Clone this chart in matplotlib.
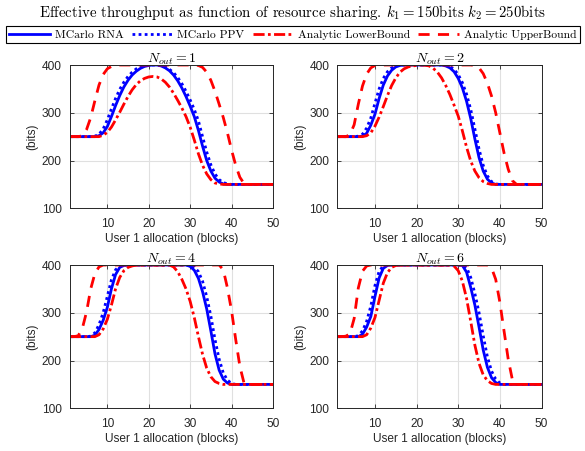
import matplotlib
matplotlib.use("Agg")
import matplotlib.pyplot as plt

plt.rcParams['mathtext.fontset'] = 'cm'
plt.rcParams['font.family'] = ['Liberation Sans', 'DejaVu Sans']

blocks = list(range(1, 51))
panel_titles = [r"$N_{out} = 1$", r"$N_{out} = 2$", r"$N_{out} = 4$", r"$N_{out} = 6$"]
series_labels = ["MCarlo RNA", "MCarlo PPV", "Analytic LowerBound", "Analytic UpperBound"]
x_ticks = [10, 20, 30, 40, 50]
y_ticks = [100, 200, 300, 400]

# N_out = 1
rna_1 = [250,250,250,250,250,250,250,252,258,271, 292,315,336,354,368,379,387,393,397,399,
         400,400,398,394,388,379,367,352,334,314, 292,263,230,200,178,163,155,151,150,150,
         150,150,150,150,150,150,150,150,150,150]
ppv_1 = [250,250,250,250,250,250,251,255,266,285, 308,330,349,364,376,385,392,396,399,400,
         400,400,399,396,391,384,374,361,345,327, 307,283,250,218,191,172,160,154,151,150,
         150,150,150,150,150,150,150,150,150,150]
lb_1 = [250,250,250,250,250,250,250,250,253,259, 270,285,301,318,334,348,359,367,372,375,
        376,375,371,364,354,341,326,310,292,270, 243,214,190,172,160,153,151,150,150,150,
        150,150,150,150,150,150,150,150,150,150]
ub_1 = [250,250,250,252,265,290,325,358,380,392, 397,399,400,400,400,400,400,400,400,400,
        400,400,400,400,400,400,400,400,400,400, 400,399,395,385,368,345,318,290,258,222,
        190,165,152,150,150,150,150,150,150,150]

# N_out = 2
rna_2 = [250,250,250,250,250,250,251,257,274,297, 330,358,377,389,396,399,400,400,400,400,
         400,400,400,400,400,400,398,394,386,372, 352,324,288,245,206,178,161,153,150,150,
         150,150,150,150,150,150,150,150,150,150]
ppv_2 = [250,250,250,250,250,251,255,268,289,320, 350,372,386,394,398,400,400,400,400,400,
         400,400,400,400,400,400,400,397,391,380, 363,339,307,266,224,190,168,156,151,150,
         150,150,150,150,150,150,150,150,150,150]
lb_2 = [250,250,250,250,250,250,250,252,258,272, 291,313,336,357,373,385,392,396,398,399,
        400,400,398,393,385,373,357,338,316,293, 262,228,199,178,164,156,152,150,150,150,
        150,150,150,150,150,150,150,150,150,150]
ub_2 = [250,250,250,254,275,318,356,381,394,399, 400,400,400,400,400,400,400,400,400,400,
        400,400,400,400,400,400,400,400,400,400, 400,400,400,399,394,382,362,335,300,258,
        216,182,158,150,150,150,150,150,150,150]

# N_out = 4
rna_3 = [250,250,250,250,250,250,253,265,284,311, 350,380,395,399,400,400,400,400,400,400,
         400,400,400,400,400,400,400,400,400,397, 389,372,344,308,262,214,180,161,153,150,
         150,150,150,150,150,150,150,150,150,150]
ppv_3 = [250,250,250,250,250,251,258,275,300,334, 369,390,398,400,400,400,400,400,400,400,
         400,400,400,400,400,400,400,400,400,400, 396,386,366,334,293,244,203,174,159,152,
         150,150,150,150,150,150,150,150,150,150]
lb_3 = [250,250,250,250,250,250,250,254,266,286, 316,350,374,388,395,398,400,400,400,400,
        400,400,400,400,400,396,386,370,350,324, 290,250,213,184,166,156,152,150,150,150,
        150,150,150,150,150,150,150,150,150,150]
ub_3 = [250,250,252,268,302,350,382,396,400,400, 400,400,400,400,400,400,400,400,400,400,
        400,400,400,400,400,400,400,400,400,400, 400,400,400,400,400,400,400,390,352,304,
        244,188,153,150,150,150,150,150,150,150]

# N_out = 6
rna_4 = [250,250,250,250,250,250,255,270,292,334, 373,393,399,400,400,400,400,400,400,400,
         400,400,400,400,400,400,400,400,400,400, 399,385,353,316,270,222,186,164,154,150,
         150,150,150,150,150,150,150,150,150,150]
ppv_4 = [250,250,250,250,250,252,262,282,314,357, 387,398,400,400,400,400,400,400,400,400,
         400,400,400,400,400,400,400,400,400,400, 400,395,374,340,300,252,208,178,161,153,
         150,150,150,150,150,150,150,150,150,150]
lb_4 = [250,250,250,250,250,250,250,254,268,290, 326,362,384,395,399,400,400,400,400,400,
        400,400,400,400,400,400,400,400,398,388, 366,330,282,232,194,170,158,152,150,150,
        150,150,150,150,150,150,150,150,150,150]
ub_4 = [250,250,251,256,288,352,387,398,400,400, 400,400,400,400,400,400,400,400,400,400,
        400,400,400,400,400,400,400,400,400,400, 400,400,400,400,400,400,400,394,370,322,
        262,203,160,150,150,150,150,150,150,150]

panels = [
    (rna_1, ppv_1, lb_1, ub_1),
    (rna_2, ppv_2, lb_2, ub_2),
    (rna_3, ppv_3, lb_3, ub_3),
    (rna_4, ppv_4, lb_4, ub_4),
]

W, H = 585, 451
fig = plt.figure(figsize=(W / 100, H / 100), dpi=100)

# axes rectangles in pixels: left, top, width, height
rects = [(70, 65, 203, 143.3), (337.5, 65, 204, 143.3),
         (70, 265, 203, 143.3), (337.5, 265, 204, 143.3)]

dark = '#262626'
styles = [
    dict(color='blue', lw=2.0, ls='-'),
    dict(color='blue', lw=2.0, ls=(0, (1, 1.2))),
    dict(color='red', lw=2.0, ls=(0, (4, 1.2, 1, 1.2))),
    dict(color='red', lw=2.0, ls=(0, (4, 3))),
]

handles = None
for i, (l, t, w, h) in enumerate(rects):
    ax = fig.add_axes([l / W, 1 - (t + h) / H, w / W, h / H])
    lines = []
    for data, st, lab in zip(panels[i], styles, series_labels):
        ln, = ax.plot(blocks, data, label=lab, **st)
        lines.append(ln)
    if handles is None:
        handles = lines
    ax.set_xlim(1, 50)
    ax.set_ylim(100, 400)
    ax.set_xticks(x_ticks)
    ax.set_yticks(y_ticks)
    ax.grid(True, color='#e0e0e0', lw=0.8)
    ax.set_axisbelow(True)
    ax.tick_params(direction='in', top=True, right=True, length=3, width=0.6,
                   labelsize=8.6, colors=dark)
    ax.tick_params(axis='x', pad=7)
    ax.tick_params(axis='y', pad=6)
    for sp in ax.spines.values():
        sp.set_color(dark)
        sp.set_linewidth(0.7)
    ax.set_title(panel_titles[i], fontsize=10, pad=2)
    ax.set_xlabel("User 1 allocation (blocks)", fontsize=8.6, color=dark, labelpad=2)
    ax.set_ylabel("(bits)", fontsize=8.6, color=dark, labelpad=2.5)

fig.text(0.5, 1 - 12 / H,
         r"Effective throughput as function of resource sharing. $k_1 = 150$bits $k_2 = 250$bits",
         ha='center', va='center', fontsize=10.7, family='cmr10')

leg = fig.legend(handles, series_labels, loc='center', bbox_to_anchor=(293 / W, 1 - 34.5 / H),
                 ncol=4, frameon=True, fancybox=False, edgecolor='black', framealpha=1,
                 prop={'family': 'cmr10', 'size': 8.4}, handlelength=3.5, columnspacing=0.7,
                 handletextpad=0.4, borderpad=0.3, borderaxespad=0, handleheight=0.6)
leg.get_frame().set_linewidth(0.8)

fig.savefig("out.png", dpi=100)
